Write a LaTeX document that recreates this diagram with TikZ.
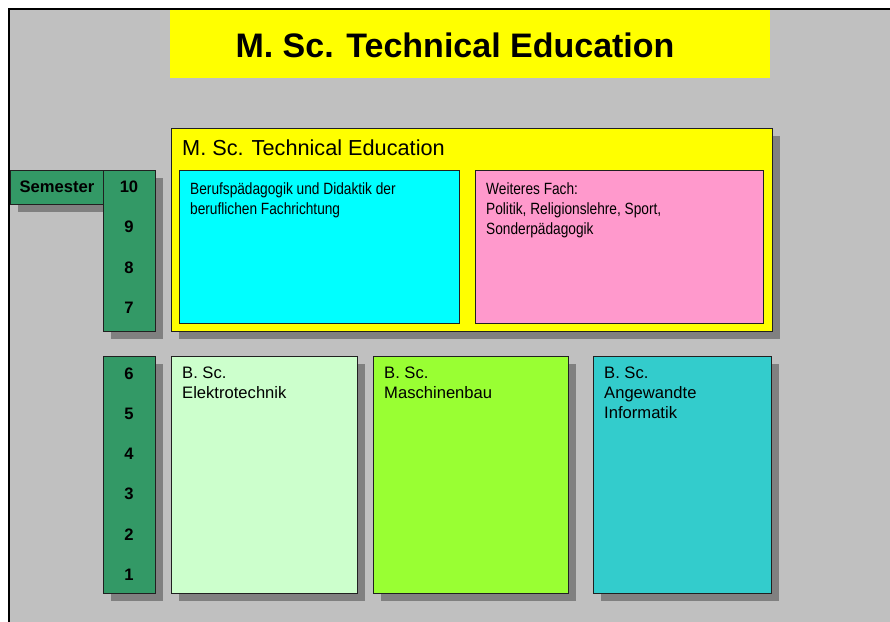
\documentclass[tikz,border=0pt]{standalone}
\usepackage{fontspec}
\setmainfont{Liberation Sans}
\newfontfamily\narrowfont[FakeStretch=0.84]{Liberation Sans}
\usetikzlibrary{shadows}

\definecolor{pagegray}{HTML}{C0C0C0}
\definecolor{shadowgray}{HTML}{808080}
\definecolor{semgreen}{HTML}{339966}
\definecolor{titleyellow}{HTML}{FFFF00}
\definecolor{didcyan}{HTML}{00FFFF}
\definecolor{fachpink}{HTML}{FF99CC}
\definecolor{etgreen}{HTML}{CCFFCC}
\definecolor{mblime}{HTML}{99FF33}
\definecolor{inftal}{HTML}{33CCCC}
\definecolor{edge}{HTML}{202020}

\tikzset{
  panel/.style={draw=edge, line width=0.9pt, inner sep=0pt, outer sep=0pt, anchor=north west},
  shadowed/.style={general shadow={shadow xshift=8pt, shadow yshift=-8pt, fill=shadowgray}},
  lbl/.style={anchor=north west, inner sep=0pt, align=left, font=\fontsize{16.6}{20}\selectfont},
  narrowlbl/.style={anchor=north west, inner sep=0pt, align=left, font=\narrowfont\fontsize{16.3}{20}\selectfont},
  num/.style={inner sep=0pt, font=\bfseries\fontsize{16.6}{20}\selectfont},
}

\begin{document}
\begin{tikzpicture}[x=1pt, y=-1pt]
\useasboundingbox (0,0) rectangle (890,621);
\fill[white] (0,0) rectangle (890,621);
\draw[line width=2pt, fill=pagegray] (9,9) rectangle (900,640);

% headline
\node[anchor=north west, fill=titleyellow, inner sep=0pt, minimum width=600pt, minimum height=68pt] (title) at (170,10) {};
\node[inner sep=0pt, font=\bfseries\fontsize{34}{40}\selectfont, anchor=base] (titletext) at (455,57) {M. Sc. Technical Education};

% master block
\node[panel, shadowed, fill=titleyellow, minimum width=601pt, minimum height=203pt] (master) at (171,128) {};
\node[anchor=base west, inner sep=0pt, font=\fontsize{21.7}{26}\selectfont] (mastertext) at (182,155) {M. Sc. Technical Education};
\node[panel, fill=didcyan, minimum width=280pt, minimum height=153pt] (didaktik) at (179,170) {};
\node[narrowlbl] (didaktiktext) at (190,182) {Berufsp\"adagogik und Didaktik der\\beruflichen Fachrichtung};
\node[panel, fill=fachpink, minimum width=288pt, minimum height=153pt] (fach) at (475,170) {};
\node[narrowlbl] (fachtext) at (486,182) {Weiteres Fach:\\Politik, Religionslehre, Sport,\\Sonderp\"adagogik};

% semester scale
\node[panel, shadowed, fill=semgreen, minimum width=93pt, minimum height=34pt] (semester) at (10,170) {};
\node[num] (semestertext) at (57,187) {Semester};
\node[panel, shadowed, fill=semgreen, minimum width=52pt, minimum height=161pt] (upper) at (103,170) {};
\node[num] (s10) at (129,187) {10};
\node[num] (s9) at (129,227) {9};
\node[num] (s8) at (129,268) {8};
\node[num] (s7) at (129,308) {7};
\node[panel, shadowed, fill=semgreen, minimum width=52pt, minimum height=237pt] (lower) at (103,356) {};
\node[num] (s6) at (129,374) {6};
\node[num] (s5) at (129,414) {5};
\node[num] (s4) at (129,454) {4};
\node[num] (s3) at (129,494) {3};
\node[num] (s2) at (129,535) {2};
\node[num] (s1) at (129,575) {1};

% bachelor programmes
\node[panel, shadowed, fill=etgreen, minimum width=186pt, minimum height=237pt] (et) at (171,356) {};
\node[lbl] (ettext) at (182,367) {B. Sc.\\Elektrotechnik};
\node[panel, shadowed, fill=mblime, minimum width=195pt, minimum height=237pt] (mb) at (373,356) {};
\node[lbl] (mbtext) at (384,367) {B. Sc.\\Maschinenbau};
\node[panel, shadowed, fill=inftal, minimum width=178pt, minimum height=237pt] (inf) at (593,356) {};
\node[lbl] (inftext) at (604,367) {B. Sc.\\Angewandte\\Informatik};
\end{tikzpicture}
\end{document}
